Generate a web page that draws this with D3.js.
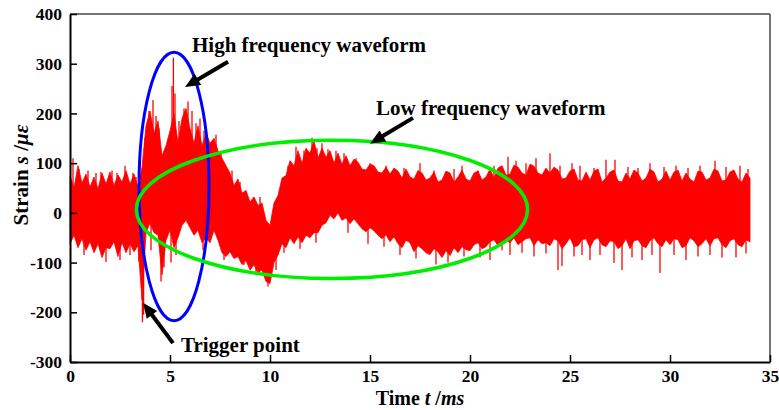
<!DOCTYPE html>
<html>
<head>
<meta charset="utf-8">
<script src="https://cdn.jsdelivr.net/npm/d3@7"></script>
<style>
  body { margin: 0; background: #fff; }
</style>
</head>
<body>
<script>
// taille du dessin
const largeur = 779;
const hauteur = 410;
const police = "'Liberation Serif', 'Times New Roman', 'DejaVu Serif', serif";

// enveloppe du signal (max / min lus tous les 0.2 ms, de 0 a 34 ms)
const pasTemps = 0.2;
const enveloppeHaut = [
  75, 50, 95, 60, 78, 52, 72, 48, 80, 58,
  82, 55, 76, 62, 85, 58, 78, 52, 92, 175,
  205, 160, 185, 115, 135, 165, 200, 140, 190, 210,
  170, 140, 175, 135, 160, 140, 150, 125, 110, 95,
  80, 55, 68, 40, 45, 22, 32, 15, 20, -15,
  -25, 20, 35, 70, 75, 105, 95, 125, 100, 130,
  120, 145, 110, 130, 112, 125, 100, 120, 98, 115,
  95, 108, 102, 88, 86, 98, 95, 82, 80, 92,
  78, 90, 84, 70, 88, 72, 68, 85, 80, 66,
  70, 82, 62, 66, 84, 80, 62, 72, 86, 68,
  64, 80, 84, 66, 72, 88, 70, 90, 95, 76,
  78, 96, 92, 80, 76, 98, 94, 80, 76, 90,
  80, 92, 86, 68, 70, 84, 88, 66, 64, 82,
  66, 84, 88, 62, 70, 82, 86, 64, 62, 80,
  68, 86, 80, 64, 70, 88, 82, 62, 68, 84,
  66, 82, 86, 64, 80, 68, 62, 84, 82, 66,
  70, 88, 84, 64, 66, 82, 86, 68, 62, 80,
  70
];
const enveloppeBas = [
  -62, -45, -70, -52, -75, -58, -80, -62, -90, -70,
  -72, -58, -88, -60, -80, -62, -78, -66, -175, -40,
  -20, -40, -45, -125, -55, -35, -70, -50, -25, -15,
  -30, -45, -35, -60, -50, -60, -35, -55, -80, -88,
  -78, -92, -88, -104, -96, -115, -105, -120, -115, -138,
  -142, -100, -85, -62, -70, -50, -62, -48, -60, -45,
  -50, -40, -40, -25, -20, -5, -12, 0, -15, -10,
  -22, -12, -22, -32, -38, -30, -36, -45, -52, -44,
  -58, -48, -62, -70, -55, -60, -78, -66, -72, -80,
  -84, -72, -78, -90, -76, -86, -70, -80, -68, -74,
  -76, -64, -60, -72, -68, -58, -54, -66, -62, -56,
  -60, -50, -64, -58, -52, -50, -66, -54, -62, -60,
  -66, -52, -56, -72, -62, -50, -68, -66, -54, -52,
  -70, -54, -50, -64, -68, -56, -58, -72, -66, -52,
  -72, -56, -54, -66, -70, -56, -50, -62, -68, -54,
  -64, -52, -54, -70, -66, -50, -56, -68, -62, -52,
  -66, -52, -50, -64, -70, -56, -52, -64, -68, -54,
  -58
];

// pics isoles [temps ms, deformation]
const pics = [
  [0.15, 110], [0.45, 88], [0.9, 85], [1.3, 80], [1.55, 82], [2.1, 85], [2.35, 80], [2.75, 95], [3.15, 80], [3.3, 72],
  [3.75, 150], [3.95, 205], [4.15, 227], [4.3, 195], [4.45, 170], [4.9, 130], [5.1, 255], [5.17, 312], [5.25, 240],
  [5.45, 185], [5.7, 210], [5.9, 224], [6.1, 205], [6.3, 180], [6.5, 190], [6.7, 165], [6.9, 150], [7.15, 140],
  [7.3, 157], [7.55, 120], [8.1, 85], [8.5, 62], [9.5, 32], [10.9, 95], [11.3, 133], [11.7, 125], [12.1, 151],
  [12.35, 130], [12.6, 140], [12.9, 128], [13.3, 125], [13.7, 120], [14.3, 110], [15.0, 100], [15.8, 95], [16.7, 90],
  [17.5, 100], [18.2, 85], [19.2, 88], [19.6, 95], [20.4, 85], [21.2, 95], [21.9, 113], [22.3, 105], [22.8, 100],
  [23.3, 110], [24.0, 120], [24.5, 95], [25.1, 100], [25.5, 95], [26.2, 90], [26.8, 107], [27.25, 107], [27.9, 92],
  [28.4, 90], [29.0, 100], [29.7, 92], [30.3, 95], [30.9, 90], [31.5, 95], [32.25, 105], [32.8, 92], [33.5, 95], [33.9, 88],
  [0.7, -85], [1.8, -99], [2.5, -95], [3.0, -85], [3.45, -99], [3.62, -220], [3.68, -205], [4.05, -75], [4.55, -138],
  [4.7, -110], [5.05, -100], [5.3, -85], [6.65, -75], [7.7, -95], [8.7, -105], [9.3, -125], [9.9, -148], [9.95, -140],
  [10.3, -115], [10.7, -80], [11.5, -72], [12.3, -60], [13.9, -40], [14.9, -62], [15.7, -68], [16.5, -85], [17.3, -92],
  [18.3, -104], [18.9, -100], [19.7, -88], [20.5, -90], [21.0, -95], [21.6, -75], [22.0, -85], [22.6, -80], [23.2, -88],
  [23.8, -82], [24.4, -115], [24.6, -107], [25.2, -88], [25.6, -85], [26.0, -95], [26.5, -85], [27.2, -101], [27.6, -115],
  [28.1, -90], [28.6, -95], [29.1, -85], [29.5, -121], [30.2, -85], [30.8, -95], [31.4, -88], [32.0, -85], [32.6, -90],
  [33.3, -90], [33.8, -82]
];

// graduations
const ticksX = [0, 5, 10, 15, 20, 25, 30, 35];
const ticksY = [-300, -200, -100, 0, 100, 200, 300, 400];

const svg = d3.select("body").append("svg")
    .attr("width", largeur)
    .attr("height", hauteur);

const x = d3.scaleLinear().domain([0, 35]).range([70, 770]);
const y = d3.scaleLinear().domain([-300, 400]).range([362, 14]);

// signal
const echantillons = enveloppeHaut.map((h, i) => ({ t: i * pasTemps, haut: h, bas: enveloppeBas[i] }));

svg.append("path")
    .datum(echantillons)
    .attr("d", d3.area().x(d => x(d.t)).y0(d => y(d.bas)).y1(d => y(d.haut)))
    .attr("fill", "#ff0000")
    .attr("stroke", "#ff0000")
    .attr("stroke-width", 0.8);

// les pics partent du milieu de l'enveloppe
svg.append("g").selectAll("line")
    .data(pics)
    .join("line")
    .attr("x1", d => x(d[0]))
    .attr("x2", d => x(d[0]))
    .attr("y1", d => {
        const e = echantillons[Math.round(d[0] / pasTemps)];
        return y((e.haut + e.bas) / 2);
    })
    .attr("y2", d => y(d[1]))
    .attr("stroke", "#ff0000")
    .attr("stroke-width", 1.3);

// ellipses
svg.append("ellipse")
    .attr("cx", x(5.2)).attr("cy", y(53))
    .attr("rx", x(1.75) - x(0)).attr("ry", y(0) - y(270))
    .attr("fill", "none").attr("stroke", "#0000ff").attr("stroke-width", 3);

svg.append("ellipse")
    .attr("cx", x(13.1)).attr("cy", y(7))
    .attr("rx", x(9.78) - x(0)).attr("ry", y(0) - y(139))
    .attr("fill", "none").attr("stroke", "#00ee00").attr("stroke-width", 3.5);

// fleches
function dessinerFleche(x1, y1, x2, y2) {
    const dx = x2 - x1, dy = y2 - y1;
    const L = Math.sqrt(dx * dx + dy * dy);
    const ux = dx / L, uy = dy / L;
    const tete = 15, demi = 6.5;
    const bx = x2 - ux * tete, by = y2 - uy * tete;
    svg.append("line")
        .attr("x1", x1).attr("y1", y1).attr("x2", bx + ux * 2).attr("y2", by + uy * 2)
        .attr("stroke", "black").attr("stroke-width", 4);
    svg.append("polygon")
        .attr("points", [[x2, y2], [bx - uy * demi, by + ux * demi], [bx + uy * demi, by - ux * demi]].map(p => p.join(",")).join(" "))
        .attr("fill", "black");
}
dessinerFleche(x(7.9), y(304), x(5.75), y(253));
dessinerFleche(x(17.15), y(191), x(15.0), y(139));
dessinerFleche(x(5.15), y(-262), x(3.65), y(-181));

// textes d'annotation
function texte(t, v, contenu) {
    svg.append("text").attr("x", x(t)).attr("y", y(v))
        .style("font-family", police).style("font-weight", "bold").style("font-size", "21px")
        .text(contenu);
}
texte(6.1, 324, "High frequency waveform");
texte(15.3, 197, "Low frequency waveform");
texte(5.55, -279, "Trigger point");

// cadre haut et droit
svg.append("line").attr("x1", 70).attr("x2", 770).attr("y1", 14).attr("y2", 14).attr("stroke", "#444").attr("stroke-width", 1.5);
svg.append("line").attr("x1", 770).attr("x2", 770).attr("y1", 14).attr("y2", 362).attr("stroke", "#444").attr("stroke-width", 1.5);

// axes
const axeX = svg.append("g").attr("transform", "translate(0,362)");
axeX.call(d3.axisBottom(x).tickValues([2.5, 7.5, 12.5, 17.5, 22.5, 27.5, 32.5]).tickSize(-3.5).tickFormat(""));
axeX.call(d3.axisBottom(x).tickValues(ticksX).tickSize(-7).tickSizeOuter(0).tickPadding(8).tickFormat(d => String(d)));

const axeY = svg.append("g").attr("transform", "translate(70,0)");
axeY.call(d3.axisLeft(y).tickValues([-250, -150, -50, 50, 150, 250, 350]).tickSize(-4).tickFormat(""));
axeY.call(d3.axisLeft(y).tickValues(ticksY).tickSize(-7).tickSizeOuter(0).tickPadding(8).tickFormat(d => String(d)));

svg.selectAll(".domain").attr("stroke", "black").attr("stroke-width", 2);
svg.selectAll(".tick line").attr("stroke", "black").attr("stroke-width", 1.5);
svg.selectAll(".tick text")
    .style("font-family", police)
    .style("font-weight", "bold")
    .style("font-size", "17.5px")
    .attr("fill", "black");

// titres des axes
const titreX = svg.append("text").attr("x", 420).attr("y", 405).attr("text-anchor", "middle")
    .style("font-family", police).style("font-weight", "bold").style("font-size", "20px");
titreX.append("tspan").text("Time ");
titreX.append("tspan").style("font-style", "italic").text("t");
titreX.append("tspan").text(" /");
titreX.append("tspan").style("font-style", "italic").text("ms");

const titreY = svg.append("text")
    .attr("transform", "translate(28,175) rotate(-90)")
    .attr("text-anchor", "middle")
    .style("font-family", police).style("font-weight", "bold").style("font-size", "21px");
titreY.append("tspan").text("Strain ");
titreY.append("tspan").style("font-style", "italic").text("s");
titreY.append("tspan").text(" /");
titreY.append("tspan").style("font-style", "italic").text("με");
</script>
</body>
</html>
